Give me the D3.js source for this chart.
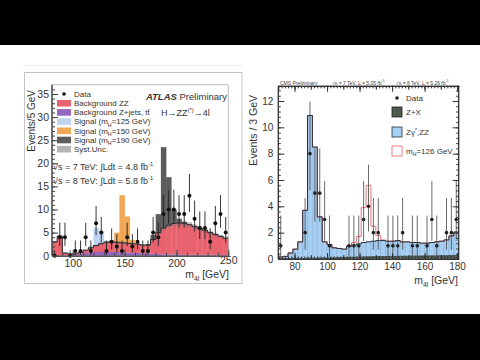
<!DOCTYPE html>
<html><head><meta charset="utf-8">
<script src="https://cdn.jsdelivr.net/npm/d3@7"></script>
<style>html,body{margin:0;padding:0;background:#fff;} svg{display:block;font-family:"Liberation Sans",Arial,Helvetica,sans-serif;}</style>
</head><body><svg id="c" width="480" height="360"></svg>
<script>
// ---------- ATLAS (left) : 5 GeV bins from 80 to 250 ----------
const atlasBins  = [80,85,90,95,100,105,110,115,120,125,130,135,140,145,150,155,160,165,170,175,180,185,190,195,200,205,210,215,220,225,230,235,240,245];
const atlasZjets = [0,0,0.1,0.2,0.3,0.4,0.6,0.7,0.8,0.8,0.8,0.8,0.8,0.7,0.7,0.6,0.6,0.5,0.5,0.4,0.4,0.3,0.3,0.3,0.3,0.2,0.2,0.2,0.2,0.2,0.2,0.1,0.1,0.1];
const atlasZZ    = [3.0,4.2,0.5,0.2,0.1,0.3,0.6,1.0,1.4,1.8,2.1,2.2,2.1,2.1,2.0,2.0,1.9,1.8,1.8,3.1,4.6,5.7,6.3,6.7,6.8,6.8,6.5,6.1,5.7,5.3,4.8,4.5,4.1,3.7];
const atlasS125  = [0,0,0,0,0,0,0,0.4,3.8,2.8,0.3,0,0,0,0,0,0,0,0,0,0,0,0,0,0,0,0,0,0,0,0,0,0,0];
const atlasS150  = [0,0,0,0,0,0,0,0,0,0,0,0.3,2.1,10.3,5.8,0.8,0,0,0,0,0,0,0,0,0,0,0,0,0,0,0,0,0,0];
const atlasS190  = [0,0,0,0,0,0,0,0,0,0,0,0,0,0,0,0,0,0,0.2,1.0,4.0,17.5,10.4,3.0,0.9,0.3,0,0,0,0,0,0,0,0];
const atlasSyst  = [0.25,0.35,0.05,0.04,0.04,0.06,0.1,0.14,0.18,0.21,0.23,0.24,0.23,0.22,0.22,0.21,0.2,0.19,0.19,0.28,0.4,0.48,0.53,0.56,0.57,0.56,0.54,0.5,0.47,0.44,0.4,0.37,0.34,0.3];
const atlasData  = [0,4,4,0,1,1,4,1,7,5,1,3,2,1,4,2,3,1,1,5,4,9,10,10,9,9,13,8,6,6,3,7,9,5];
const atlasUp    = [1.15,3.16,3.16,1.15,2.3,2.3,3.16,2.3,3.77,3.38,2.3,2.92,2.64,2.3,3.16,2.64,2.92,2.3,2.3,3.38,3.16,4.11,4.27,4.27,4.11,4.11,4.7,3.95,3.58,3.58,2.92,3.77,4.11,3.38];
const atlasDn    = [0,1.91,1.91,0,0.83,0.83,1.91,0.83,2.58,2.16,0.83,1.63,1.29,0.83,1.91,1.29,1.63,0.83,0.83,2.16,1.91,2.94,3.11,3.11,2.94,2.94,3.56,2.77,2.38,2.38,1.63,2.58,2.94,2.16];
const atlasXTicks = [100,150,200,250];
const atlasYTicks = [0,5,10,15,20,25,30,35];

// ---------- CMS (right) : 3 GeV bins from 70 to 181 ----------
const cmsBins = [70,73,76,79,82,85,88,91,94,97,100,103,106,109,112,115,118,121,124,127,130,133,136,139,142,145,148,151,154,157,160,163,166,169,172,175,178];
const cmsZX   = [0.03,0.03,0.04,0.04,0.05,0.05,0.06,0.06,0.07,0.07,0.08,0.09,0.1,0.11,0.12,0.13,0.14,0.15,0.16,0.17,0.18,0.18,0.19,0.2,0.2,0.21,0.21,0.22,0.22,0.23,0.23,0.24,0.24,0.25,0.25,0.26,0.27];
const cmsZZ   = [0.12,0.17,0.41,0.71,1.25,3.65,10.84,8.44,3.13,1.23,1.02,0.76,0.7,0.64,0.83,0.92,1.01,1.1,1.14,1.18,1.22,1.22,1.16,1.15,1.2,1.09,1.09,1.03,1.03,0.97,0.97,1.01,1.06,1.1,1.2,1.49,1.78];
const cmsSig  = [0,0,0,0,0,0,0,0,0,0,0,0,0,0,0.05,0.2,0.55,2.65,4.3,1.15,0.4,0.05,0,0,0,0,0,0,0,0,0,0,0,0,0,0,0];
const cmsData = [1,0,0,0,0,2,8,5,5,3,1,0,0,0,1,1,1,3,4,2,2,0,1,1,1,2,0,1,1,0,1,3,1,0,2,2,3];
const cmsUp   = [2.3,0,0,0,0,2.64,3.95,3.38,3.38,2.92,2.3,0,0,0,2.3,2.3,2.3,2.92,3.16,2.64,2.64,0,2.3,2.3,2.3,2.64,0,2.3,2.3,0,2.3,2.92,2.3,0,2.64,2.64,2.92];
const cmsDn   = [0.83,0,0,0,0,1.29,2.77,2.16,2.16,1.63,0.83,0,0,0,0.83,0.83,0.83,1.63,1.91,1.29,1.29,0,0.83,0.83,0.83,1.29,0,0.83,0.83,0,0.83,1.63,0.83,0,1.29,1.29,1.63];
const cmsXTicks = [80,100,120,140,160,180];
const cmsYTicks = [0,2,4,6,8,10,12];

const svg = d3.select('#c');
svg.append('rect').attr('width',480).attr('height',360).attr('fill','#fff');
svg.append('rect').attr('x',0).attr('y',0).attr('width',480).attr('height',45).attr('fill','#000');
svg.append('rect').attr('x',0).attr('y',314).attr('width',480).attr('height',46).attr('fill','#000');

function rich(textSel, parts, size){
  let off=0;
  parts.forEach(p=>{
    const [s,mode] = typeof p==='string' ? [p,null] : p;
    const target = mode==='sub' ? size*0.3 : mode==='sup' ? -size*0.42 : 0;
    const t = textSel.append('tspan').text(s).attr('dy', target-off);
    if(mode) t.attr('font-size', size*0.65);
    off = target;
  });
  return textSel;
}
function styleAxis(g, size, col){
  g.attr('font-family','"Liberation Sans",Arial,sans-serif').attr('font-size',size);
  g.selectAll('path').attr('stroke',col);
  g.selectAll('line').attr('stroke',col);
  g.selectAll('text').attr('fill','#333');
}

// ================= LEFT PANEL (ATLAS) =================
svg.append('line').attr('x1',23).attr('x2',242).attr('y1',65.5).attr('y2',65.5).attr('stroke','#ececec');
svg.append('rect').attr('x',24.5).attr('y',72.5).attr('width',217.5).attr('height',211).attr('fill','none').attr('stroke','#c4c4c4');

const xL = d3.scaleLinear().domain([80,250]).range([52,228.3]);
const yL = d3.scaleLinear().domain([0,35]).range([255.7,94]);
const gA = svg.append('g');

const atlasRows = atlasBins.map((m,i)=>({m, zjets:atlasZjets[i], zz:atlasZZ[i], s125:atlasS125[i], s150:atlasS150[i], s190:atlasS190[i]}));
const colA = {zjets:'#9466c2', zz:'#e8636e', s125:'#bdd3ef', s150:'#f2a755', s190:'#5c5c5c'};
const stackA = d3.stack().keys(['zjets','zz','s125','s150','s190'])(atlasRows);
stackA.forEach(layer=>{
  gA.append('g').selectAll('rect').data(layer).join('rect')
    .attr('x', d=>xL(d.data.m)).attr('width', d=>xL(d.data.m+5)-xL(d.data.m)+0.3)
    .attr('y', d=>yL(d[1])).attr('height', d=>Math.max(0, yL(d[0])-yL(d[1])))
    .attr('fill', colA[layer.key]);
});
// syst band + total background line
const bkgA = atlasRows.map((r,i)=>({m:r.m, v:r.zjets+r.zz, s:atlasSyst[i]}));
const bkgAext = bkgA.concat([{m:250, v:bkgA[bkgA.length-1].v, s:bkgA[bkgA.length-1].s}]);
gA.append('path').datum(bkgAext)
  .attr('d', d3.area().curve(d3.curveStepAfter).x(d=>xL(d.m)).y0(d=>yL(d.v-d.s)).y1(d=>yL(d.v+d.s)))
  .attr('fill','#777').attr('opacity',0.45);
gA.append('path').datum(bkgAext)
  .attr('d', d3.line().curve(d3.curveStepAfter).x(d=>xL(d.m)).y(d=>yL(d.v)))
  .attr('fill','none').attr('stroke','#2a2a2a').attr('stroke-width',1);
// data
const ptsA = atlasBins.map((m,i)=>({m:m+2.5, v:atlasData[i], up:atlasUp[i], dn:atlasDn[i]}));
gA.append('g').selectAll('line').data(ptsA).join('line')
  .attr('x1',d=>xL(d.m)).attr('x2',d=>xL(d.m)).attr('y1',d=>yL(d.v-d.dn)).attr('y2',d=>yL(d.v+d.up))
  .attr('stroke','#222').attr('stroke-width',0.9);
gA.append('g').selectAll('circle').data(ptsA).join('circle')
  .attr('cx',d=>xL(d.m)).attr('cy',d=>yL(d.v)).attr('r',2).attr('fill','#111');
// frame
gA.append('line').attr('x1',xL(80)).attr('x2',xL(250)).attr('y1',yL(37)).attr('y2',yL(37)).attr('stroke','#aaa').attr('stroke-width',0.8);
gA.append('line').attr('x1',xL(250)).attr('x2',xL(250)).attr('y1',yL(37)).attr('y2',yL(0)).attr('stroke','#aaa').attr('stroke-width',0.8);
// axes
const axXA = gA.append('g').attr('transform',`translate(0,${yL(0)})`)
  .call(d3.axisBottom(xL).tickValues(atlasXTicks).tickSizeInner(-6).tickSizeOuter(0).tickPadding(4));
styleAxis(axXA, 10.5, '#444');
axXA.selectAll('.tick').filter(d=>d===250).select('text').attr('dy','0.45em');
const axXAm = gA.append('g').attr('transform',`translate(0,${yL(0)})`)
  .call(d3.axisBottom(xL).tickValues(d3.range(80,251,10)).tickSizeInner(-3).tickSizeOuter(0).tickFormat(''));
styleAxis(axXAm, 10.5, '#444');
const axYA = gA.append('g').attr('transform',`translate(${xL(80)},0)`)
  .call(d3.axisLeft(yL).tickValues(atlasYTicks).tickSizeInner(-6).tickSizeOuter(0).tickPadding(3));
styleAxis(axYA, 10.5, '#444');
axYA.select('.domain').attr('d', `M0,${yL(37)}V${yL(0)}`);
const axYAm = gA.append('g').attr('transform',`translate(${xL(80)},0)`)
  .call(d3.axisLeft(yL).tickValues(d3.range(0,37,1)).tickSizeInner(-3).tickSizeOuter(0).tickFormat(''));
styleAxis(axYAm, 10.5, '#444');
axYAm.select('.domain').attr('d', `M0,${yL(37)}V${yL(0)}`);

// axis titles
gA.append('text').attr('transform','translate(35,90) rotate(-90)').attr('text-anchor','end')
  .attr('font-size',10).attr('fill','#333').text('Events/5 GeV');
rich(gA.append('text').attr('x',229).attr('y',278).attr('text-anchor','end').attr('font-size',10.5).attr('fill','#333'),
  ['m',['4l','sub'],' [GeV]'],10.5);

// legend
const legA = [
  {t:'dot', parts:['Data']},
  {t:'box', c:colA.zz, parts:['Background ZZ']},
  {t:'box', c:colA.zjets, parts:['Background Z+jets, tt\u0304']},
  {t:'box', c:colA.s125, parts:['Signal (m',['H','sub'],'=125 GeV)']},
  {t:'box', c:colA.s150, parts:['Signal (m',['H','sub'],'=150 GeV)']},
  {t:'box', c:colA.s190, parts:['Signal (m',['H','sub'],'=190 GeV)']},
  {t:'box', c:'#b4b4b4', parts:['Syst.Unc.']}
];
legA.forEach((e,i)=>{
  const cy = 94 + i*9.2;
  if(e.t==='dot') gA.append('circle').attr('cx',64).attr('cy',cy).attr('r',1.8).attr('fill','#111');
  else gA.append('rect').attr('x',57).attr('y',cy-3.3).attr('width',14).attr('height',6.6).attr('fill',e.c);
  rich(gA.append('text').attr('x',74).attr('y',cy+2.8).attr('font-size',8).attr('fill','#333'), e.parts, 8);
});
// headers
const atl = gA.append('text').attr('x',227).attr('y',100).attr('text-anchor','end').attr('font-size',9.5).attr('fill','#333');
atl.append('tspan').attr('font-weight','bold').attr('font-style','italic').text('ATLAS');
atl.append('tspan').text(' Preliminary');
rich(gA.append('text').attr('x',161).attr('y',116).attr('font-size',9).attr('fill','#333'),
  ['H\u2192ZZ',['(*)','sup'],'\u21924l'],9);
rich(gA.append('text').attr('x',53).attr('y',170).attr('font-size',9).attr('fill','#333'),
  ['\u221As = 7 TeV: \u222BLdt = 4.8 fb',['-1','sup']],9);
rich(gA.append('text').attr('x',53).attr('y',184).attr('font-size',9).attr('fill','#333'),
  ['\u221As = 8 TeV: \u222BLdt = 5.8 fb',['-1','sup']],9);

// ================= RIGHT PANEL (CMS) =================
const xC = d3.scaleLinear().domain([70,181]).range([278.3,458.7]);
const yC = d3.scaleLinear().domain([0,12]).range([259,101]);
const topC = 13.15;
const gC = svg.append('g');
const cmsRows = cmsBins.map((m,i)=>({m, zx:cmsZX[i], zz:cmsZZ[i], sig:cmsSig[i]}));
const stackC = d3.stack().keys(['zx','zz'])(cmsRows);
const colC = {zx:'#4f5b50', zz:'#a6cff4'};
stackC.forEach(layer=>{
  gC.append('g').selectAll('rect').data(layer).join('rect')
    .attr('x', d=>xC(d.data.m)).attr('width', d=>xC(d.data.m+3)-xC(d.data.m)+0.3)
    .attr('y', d=>yC(d[1])).attr('height', d=>Math.max(0, yC(d[0])-yC(d[1])))
    .attr('fill', colC[layer.key]);
});
// bin edge lines in the blue histogram
gC.append('g').selectAll('line').data(cmsRows.slice(1)).join('line')
  .attr('x1',d=>xC(d.m)).attr('x2',d=>xC(d.m)).attr('y1',yC(0))
  .attr('y2',(d,i)=>yC(Math.min(d.zx+d.zz, cmsRows[i].zx+cmsRows[i].zz)))
  .attr('stroke','#6f8faf').attr('stroke-width',0.35);
const lastC = cmsRows[cmsRows.length-1];
const stepC = d3.line().curve(d3.curveStepAfter).x(d=>xC(d.m)).y(d=>yC(d.v));
const sigLine = cmsRows.map(r=>({m:r.m, v:r.zx+r.zz+r.sig})).concat([{m:181, v:lastC.zx+lastC.zz+lastC.sig}]);
gC.append('path').datum(sigLine).attr('d',stepC).attr('fill','none').attr('stroke','#e8707a').attr('stroke-width',1);
const bkgLine = cmsRows.map(r=>({m:r.m, v:r.zx+r.zz})).concat([{m:181, v:lastC.zx+lastC.zz}]);
gC.append('path').datum(bkgLine).attr('d',stepC).attr('fill','none').attr('stroke','#25303c').attr('stroke-width',1);
const zxLine = cmsRows.map(r=>({m:r.m, v:r.zx})).concat([{m:181, v:lastC.zx}]);
gC.append('path').datum(zxLine).attr('d',stepC).attr('fill','none').attr('stroke','#2a302a').attr('stroke-width',0.8);
// data
const ptsC = cmsBins.map((m,i)=>({m:m+1.5, v:cmsData[i], up:cmsUp[i], dn:cmsDn[i]})).filter(d=>d.v>0);
gC.append('g').selectAll('line').data(ptsC).join('line')
  .attr('x1',d=>xC(d.m)).attr('x2',d=>xC(d.m)).attr('y1',d=>yC(d.v-d.dn)).attr('y2',d=>yC(d.v+d.up))
  .attr('stroke','#444').attr('stroke-width',0.8);
gC.append('g').selectAll('circle').data(ptsC).join('circle')
  .attr('cx',d=>xC(d.m)).attr('cy',d=>yC(d.v)).attr('r',1.8).attr('fill','#222');
// axes (ticks on all four sides, pointing inward)
function cmsAxes(){
  const specs = [
    {mk:()=>d3.axisBottom(xC), tr:`translate(0,${yC(0)})`},
    {mk:()=>d3.axisTop(xC), tr:`translate(0,${yC(topC)})`}
  ];
  specs.forEach((s,k)=>{
    const g1 = gC.append('g').attr('transform',s.tr).call(s.mk().tickValues(cmsXTicks).tickSizeInner(-6).tickSizeOuter(0).tickPadding(4).tickFormat(k===0?d3.format('d'):''));
    styleAxis(g1,10,'#333');
    const g2 = gC.append('g').attr('transform',s.tr).call(s.mk().tickValues(d3.range(70,182,10)).tickSizeInner(-4).tickSizeOuter(0).tickFormat(''));
    styleAxis(g2,10,'#333');
    const g3 = gC.append('g').attr('transform',s.tr).call(s.mk().tickValues(d3.range(70,182,2)).tickSizeInner(-2.5).tickSizeOuter(0).tickFormat(''));
    styleAxis(g3,10,'#333');
  });
  const ys = [
    {mk:()=>d3.axisLeft(yC), tr:`translate(${xC(70)},0)`},
    {mk:()=>d3.axisRight(yC), tr:`translate(${xC(181)},0)`}
  ];
  ys.forEach((s,k)=>{
    const g1 = gC.append('g').attr('transform',s.tr).call(s.mk().tickValues(cmsYTicks).tickSizeInner(-6).tickSizeOuter(0).tickPadding(5).tickFormat(k===0?d3.format('d'):''));
    styleAxis(g1,10,'#333');
    g1.select('.domain').attr('d',`M0,${yC(topC)}V${yC(0)}`);
    const g2 = gC.append('g').attr('transform',s.tr).call(s.mk().tickValues(d3.range(0,13.1,0.4)).tickSizeInner(-2.5).tickSizeOuter(0).tickFormat(''));
    styleAxis(g2,10,'#333');
    g2.select('.domain').attr('d',`M0,${yC(topC)}V${yC(0)}`);
  });
}
cmsAxes();
gC.append('text').attr('transform','translate(257,95) rotate(-90)').attr('text-anchor','end')
  .attr('font-size',10.5).attr('fill','#333').text('Events / 3 GeV');
rich(gC.append('text').attr('x',458).attr('y',284).attr('text-anchor','end').attr('font-size',10.5).attr('fill','#333'),
  ['m',['4l','sub'],' [GeV]'],10.5);
// header
gC.append('text').attr('x',280).attr('y',84.5).attr('font-size',5).attr('fill','#444').text('CMS Preliminary');
rich(gC.append('text').attr('x',332).attr('y',84.5).attr('font-size',5).attr('fill','#444'),['\u221As = 7 TeV, L = 5.05 fb',['-1','sup']],5);
rich(gC.append('text').attr('x',396).attr('y',84.5).attr('font-size',5).attr('fill','#444'),['\u221As = 8 TeV, L = 5.26 fb',['-1','sup']],5);
// legend
gC.append('circle').attr('cx',397).attr('cy',98).attr('r',1.8).attr('fill','#222');
gC.append('text').attr('x',406).attr('y',101).attr('font-size',8).attr('fill','#333').text('Data');
gC.append('rect').attr('x',392).attr('y',107).attr('width',10).attr('height',10).attr('fill',colC.zx).attr('stroke','#222').attr('stroke-width',0.8);
gC.append('text').attr('x',406).attr('y',115).attr('font-size',8).attr('fill','#333').text('Z+X');
gC.append('rect').attr('x',392).attr('y',127).attr('width',10).attr('height',10).attr('fill',colC.zz).attr('stroke','#25303c').attr('stroke-width',0.8);
rich(gC.append('text').attr('x',406).attr('y',135).attr('font-size',8).attr('fill','#333'),['Z\u03B3',['*','sup'],',ZZ'],8);
gC.append('rect').attr('x',392).attr('y',146).attr('width',10).attr('height',10).attr('fill','#fff').attr('stroke','#e8707a').attr('stroke-width',0.9);
rich(gC.append('text').attr('x',406).attr('y',154).attr('font-size',8).attr('fill','#333'),['m',['H','sub'],'=126 GeV'],8);
</script></body></html>
